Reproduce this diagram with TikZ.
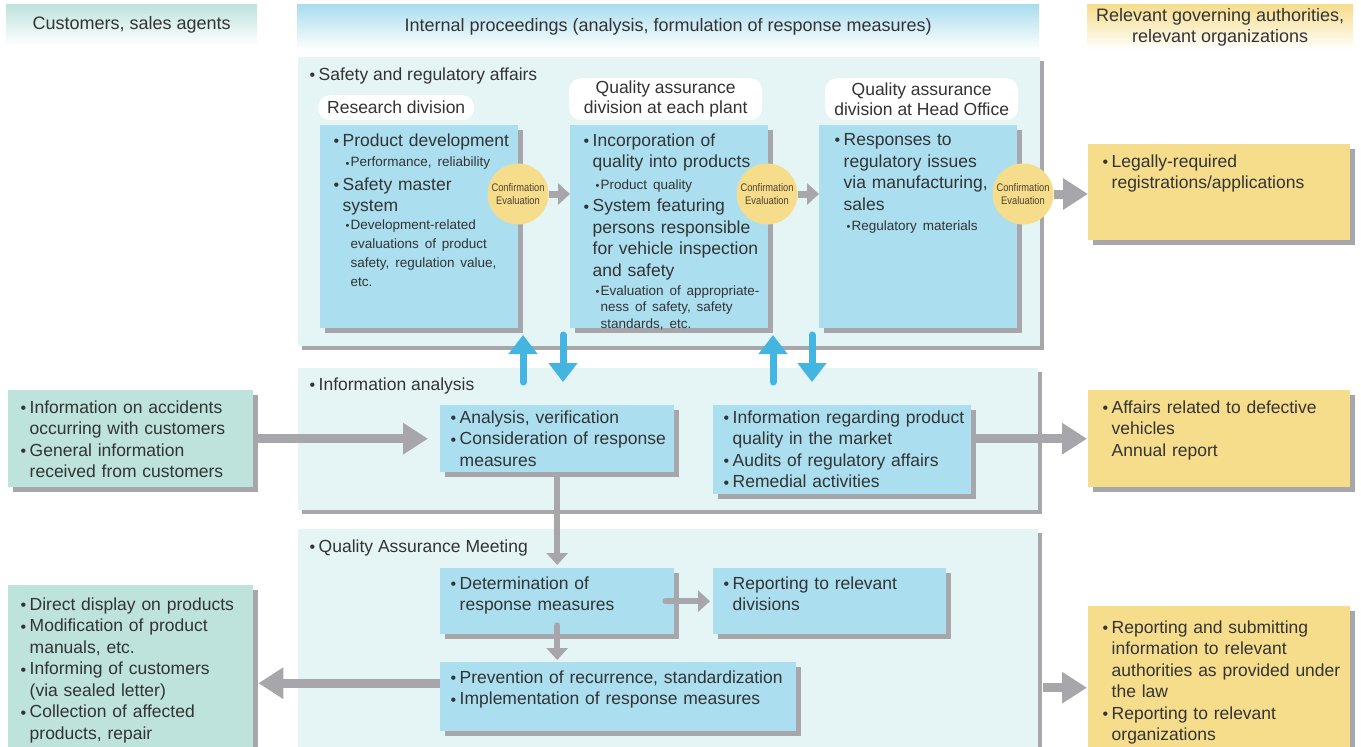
\documentclass[tikz,border=0pt]{standalone}
\usepackage{fontspec}
\setmainfont{Liberation Sans}
\newfontfamily\narrowfont[FakeStretch=0.85]{Liberation Sans}
\usetikzlibrary{arrows.meta}
\usetikzlibrary{positioning}
\usetikzlibrary{shadows}
\definecolor{cteal}{HTML}{BDE3DC}
\definecolor{chblue}{HTML}{A9DDEE}
\definecolor{cblue}{HTML}{ABDFF0}
\definecolor{cyel}{HTML}{F6DD8C}
\definecolor{cpanel}{HTML}{E5F4F5}
\definecolor{cshadow}{HTML}{A7A7AB}
\definecolor{cbarrow}{HTML}{44B4E0}
\definecolor{ctext}{HTML}{333333}
\definecolor{cbrown}{HTML}{4D4030}
\newcommand{\mfont}{\fontsize{17.5}{21.5}\selectfont}
\newcommand{\bdot}{\makebox[8.5pt][l]{\hspace{-0.5pt}\raisebox{-0.2pt}{\fontsize{16}{16}\selectfont\textbullet}}}
\newcommand{\sdot}{\makebox[5pt][l]{\raisebox{-0.2pt}{\fontsize{11}{11}\selectfont\textbullet}}}
\newcommand{\itm}[1]{{\mfont\let\\\newline\hangindent=8.5pt\hangafter=1\noindent\bdot#1\par}}
\newcommand{\sitm}[2][18.5]{{\fontsize{13.5}{#1}\selectfont\let\\\newline\leftskip=11.5pt\hangindent=5pt\hangafter=1\noindent\sdot#2\par}}
\tikzset{hdr/.style = {anchor=north west, inner sep=0, align=center, top color=#1, bottom color=white, text=ctext, font=\fontsize{18}{21}\selectfont}}
\tikzset{panel/.style = {anchor=north west, inner sep=0, fill=cpanel, drop shadow={opacity=1, fill=cshadow, shadow xshift=4pt, shadow yshift=-4pt}}}
\tikzset{boxbase/.style = {anchor=north west, inner sep=0, drop shadow={opacity=1, fill=cshadow, shadow xshift=5pt, shadow yshift=-5pt}}}
\tikzset{bbox/.style = {boxbase, fill=cblue}}
\tikzset{ybox/.style = {boxbase, fill=cyel}}
\tikzset{tbox/.style = {boxbase, fill=cteal}}
\tikzset{pill/.style = {anchor=north west, inner sep=0, fill=white, rounded corners=12, align=center, text=ctext, font=\fontsize{17.5}{20}\selectfont}}
\tikzset{plabel/.style = {anchor=west, inner sep=0, text=ctext, font=\mfont}}
\tikzset{txt/.style = {anchor=north west, inner sep=0, align=left, text=ctext, font=\mfont}}
\tikzset{evalc/.style = {circle, fill=cyel, minimum size=61, inner sep=0, align=center, text=cbrown, font=\narrowfont\fontsize{11}{13}\selectfont}}
\tikzset{garrow/.style = {draw=cshadow, line width=7pt, line cap=round, -{Triangle[length=12pt, width=21pt]}}}
\tikzset{gbig/.style = {draw=cshadow, line width=9pt, -{Triangle[length=25pt, width=30pt]}}}
\tikzset{barrow/.style = {draw=cbarrow, line width=7pt, line cap=round, -{Triangle[length=19pt, width=28pt]}}}

\begin{document}
\begin{tikzpicture}[x=1pt, y=-1pt]
  \useasboundingbox (0,0) rectangle (1361,747);

  \node[hdr=cteal, minimum width=251, minimum height=41] (hcust) at (6,4) {Customers, sales agents};
  \node[hdr=chblue, minimum width=742, minimum height=46] (hint) at (297,4) {Internal proceedings (analysis, formulation of response measures)};
  \node[hdr=cyel, minimum width=266, minimum height=46] (hauth) at (1087,4) {Relevant governing authorities,\\relevant organizations};

  \node[panel, minimum width=742, minimum height=289] (sfp) at (298,57) {};
  \node[panel, minimum width=740, minimum height=142] (iap) at (298,368) {};
  \node[panel, minimum width=740, minimum height=230] (qap) at (298,529) {};

  \node[plabel] (sfl) at (310,76) {\bdot Safety and regulatory affairs};
  \node[plabel] (ial) at (310,386) {\bdot Information analysis};
  \node[plabel] (qal) at (310,548) {\bdot Quality Assurance Meeting};

  \node[bbox, minimum width=198, minimum height=203] (rsch) at (320,125) {};
  \node[bbox, minimum width=198, minimum height=203] (plant) at (570,125) {};
  \node[bbox, minimum width=198, minimum height=203] (hq) at (819,125) {};
  \node[ybox, minimum width=262, minimum height=96] (legal) at (1088,144) {};
  \node[tbox, minimum width=245, minimum height=97] (infl) at (8,390) {};
  \node[bbox, minimum width=234, minimum height=67] (anal) at (440,405) {};
  \node[bbox, minimum width=258, minimum height=89] (inforeg) at (713,405) {};
  \node[ybox, minimum width=262, minimum height=97] (defect) at (1088,390) {};
  \node[bbox, minimum width=234, minimum height=66] (determ) at (440,568) {};
  \node[bbox, minimum width=233, minimum height=66] (repdiv) at (713,568) {};
  \node[bbox, minimum width=356, minimum height=69] (prev) at (440,662) {};
  \node[tbox, minimum width=245, minimum height=170] (botl) at (8,585) {};
  \node[ybox, minimum width=262, minimum height=150] (repy) at (1088,606) {};

  \node[pill, minimum width=156, minimum height=25] (prsch) at (318,95) {Research division};
  \node[pill, minimum width=193, minimum height=42] (pplant) at (569,78) {Quality assurance\\division at each plant};
  \node[pill, minimum width=193, minimum height=42] (phq) at (825,78) {Quality assurance\\division at Head Office};

  \node[txt, text width=180] (rscht) at ([shift={(14,8.5)}]rsch.north west) {\itm{Product development}\vspace{2pt}\sitm{Performance, reliability}\vspace{2pt}\itm{Safety master\\system}\vspace{-1.5pt}\sitm[19]{Development-related\\evaluations of product\\safety, regulation value,\\etc.}};
  \node[txt, text width=180] (plantt) at ([shift={(14,8.5)}]plant.north west) {\itm{Incorporation of\\quality into products}\vspace{3pt}\sitm{Product quality}\vspace{1pt}\itm{System featuring\\persons responsible\\for vehicle inspection\\and safety}\vspace{2.5pt}\sitm[16.5]{Evaluation of appropriate-\\ness of safety, safety\\standards, etc.}};
  \node[txt, text width=180] (hqt) at ([shift={(16,8.5)}]hq.north west) {\itm{Responses to\\regulatory issues\\via manufacturing,\\sales}\vspace{1.5pt}\sitm{Regulatory materials}};
  \node[txt, text width=240] (legalt) at ([shift={(15,10.5)}]legal.north west) {\itm{Legally-required\\registrations/applications}};
  \node[txt, text width=230] (inflt) at ([shift={(13,10.5)}]infl.north west) {\itm{Information on accidents\\occurring with customers}\itm{General information\\received from customers}};
  \node[txt, text width=220] (analt) at ([shift={(11,5.5)}]anal.north west) {\itm{Analysis, verification}\itm{Consideration of response\\measures}};
  \node[txt, text width=245] (inforegt) at ([shift={(11,5.5)}]inforeg.north west) {\itm{Information regarding product\\quality in the market}\itm{Audits of regulatory affairs}\itm{Remedial activities}};
  \node[txt, text width=240] (defectt) at ([shift={(15,10.5)}]defect.north west) {\itm{Affairs related to defective\\vehicles\\Annual report}};
  \node[txt, text width=220] (determt) at ([shift={(11,8.5)}]determ.north west) {\itm{Determination of\\response measures}};
  \node[txt, text width=220] (repdivt) at ([shift={(11,8.5)}]repdiv.north west) {\itm{Reporting to relevant\\divisions}};
  \node[txt, text width=345] (prevt) at ([shift={(11,8.5)}]prev.north west) {\itm{Prevention of recurrence, standardization}\itm{Implementation of response measures}};
  \node[txt, text width=235] (botlt) at ([shift={(13,12.5)}]botl.north west) {\itm{Direct display on products}\itm{Modification of product\\manuals, etc.}\itm{Informing of customers\\(via sealed letter)}\itm{Collection of affected\\products, repair}};
  \node[txt, text width=245] (repyt) at ([shift={(15,14.5)}]repy.north west) {\itm{Reporting and submitting\\information to relevant\\authorities as provided under\\the law}\itm{Reporting to relevant\\organizations}};

  \node[evalc] (ev1) at (518,194) {Confirmation\\Evaluation};
  \node[evalc] (ev2) at (767,194) {Confirmation\\Evaluation};
  \node[evalc] (ev3) at (1023,194) {Confirmation\\Evaluation};

  \draw[garrow, line cap=butt] (ev1.east) -- (ev1.east -| plant.west);
  \draw[garrow, line cap=butt] (ev2.east) -- (ev2.east -| hq.west);
  \draw[gbig] (ev3.east) -- (ev3.east -| legal.west);

  \coordinate (up1) at (523,382);
  \coordinate (up1t) at (523,335);
  \coordinate (dn1) at (563,335);
  \coordinate (dn1t) at (563,382);
  \coordinate (up2) at (773,382);
  \coordinate (up2t) at (773,335);
  \coordinate (dn2) at (812,335);
  \coordinate (dn2t) at (812,382);
  \draw[barrow] (up1) -- (up1t);
  \draw[barrow] (dn1) -- (dn1t);
  \draw[barrow] (up2) -- (up2t);
  \draw[barrow] (dn2) -- (dn2t);

  \draw[gbig, shorten >=12pt] (infl.east) -- (infl.east -| anal.west);
  \draw[gbig, shorten >=1pt] (defect.west -| inforeg.east) -- (defect.west);
  \draw[garrow, line width=6pt, line cap=butt, shorten >=3pt] (anal.south) -- (anal.south |- determ.north);
  \draw[garrow, line width=6pt, shorten >=3pt] ([xshift=-9pt]determ.east) -- (repdiv.west);
  \draw[garrow, line width=6pt, shorten >=2pt] ([yshift=9pt]determ.south) -- (determ.south |- prev.north);
  \draw[gbig, shorten >=5pt] ([yshift=13.5pt]prev.west) -- ([yshift=13.5pt]prev.west -| botl.east);
  \draw[gbig, shorten <=5pt, shorten >=1pt] ([yshift=-6.5pt]repy.west -| qap.east) -- ([yshift=-6.5pt]repy.west);
\end{tikzpicture}
\end{document}
